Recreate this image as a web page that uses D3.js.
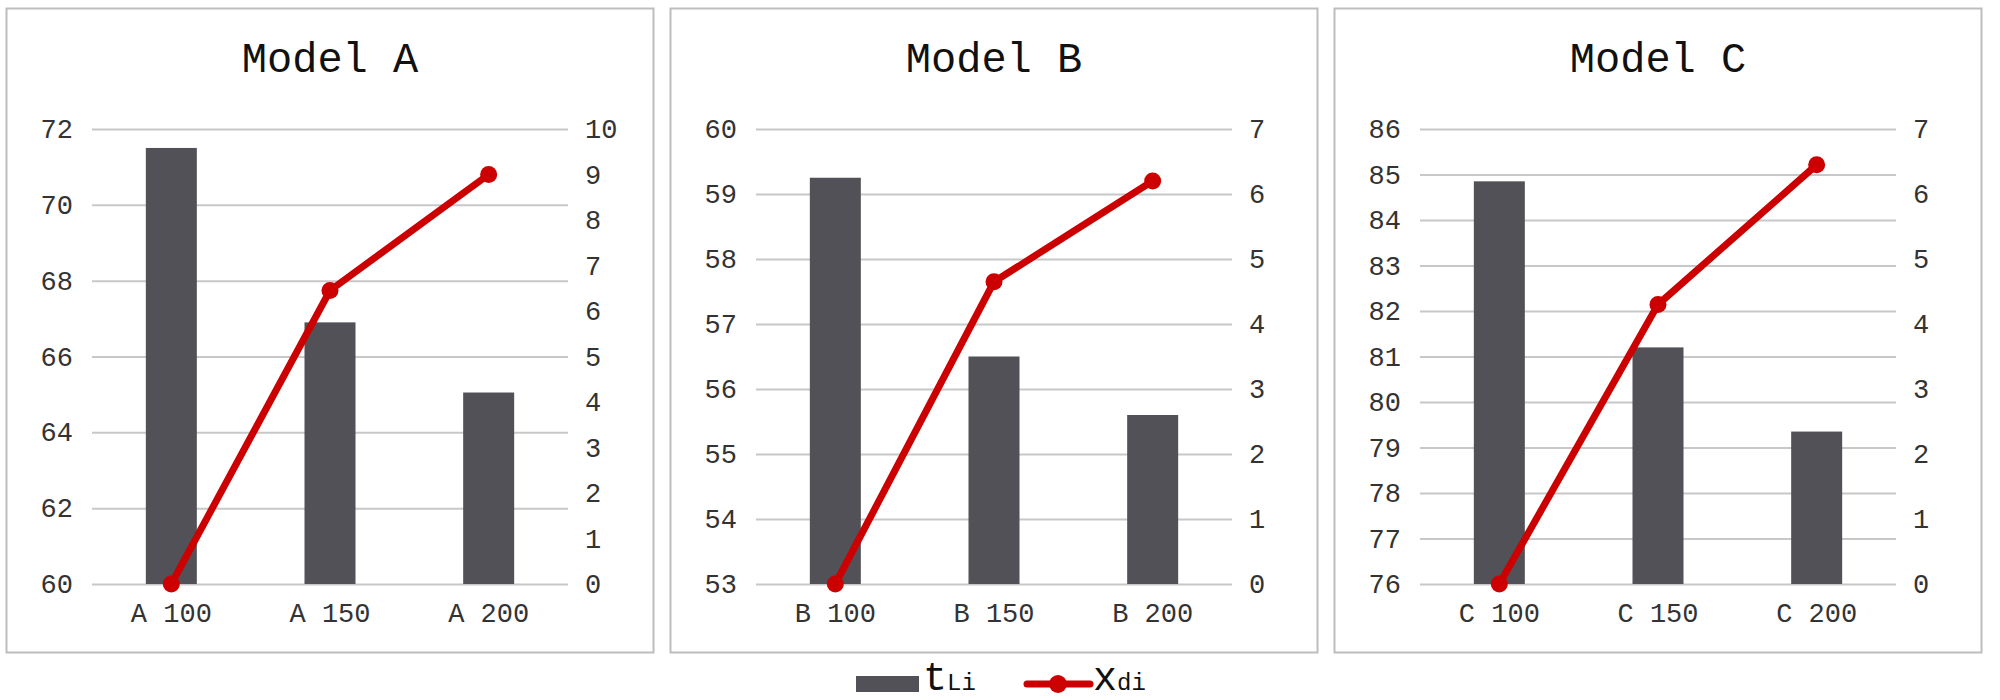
<!DOCTYPE html>
<html><head><meta charset="utf-8">
<script src="https://cdn.jsdelivr.net/npm/d3@7"></script>
<style>body{margin:0;background:#fff}</style></head>
<body><svg id="c" width="2000" height="700"></svg>
<script>
const titles = ["Model A","Model B","Model C"];
const categories = [["A 100","A 150","A 200"],["B 100","B 150","B 200"],["C 100","C 150","C 200"]];
const barValues = [[71.5,66.9,65.05],[59.25,56.5,55.6],[84.85,81.2,79.35]];
const lineValues = [[0,6.45,9.0],[0,4.65,6.2],[0,4.3,6.45]];
const leftDomains = [[60,72],[53,60],[76,86]];
const leftTicks = [[60,62,64,66,68,70,72],[53,54,55,56,57,58,59,60],[76,77,78,79,80,81,82,83,84,85,86]];
const rightDomains = [[0,10],[0,7],[0,7]];
const legendLabels = [["t","Li"],["x","di"]];

const font = "'Liberation Mono', 'DejaVu Sans Mono', monospace";
const svg = d3.select("#c");
const RED = "#cc0000", BAR = "#515157";

titles.forEach((t,i)=>{
  const ox = 6 + i*664;
  const g = svg.append("g").attr("transform",`translate(${ox},0)`);
  g.append("rect").attr("x",0.5).attr("y",8.5).attr("width",647).attr("height",644)
    .attr("fill","#fff").attr("stroke","#bdbdbd").attr("stroke-width",2);
  g.append("text").attr("x",324).attr("y",72).attr("text-anchor","middle")
    .attr("font-family",font).attr("font-size",42).attr("fill","#111").text(t);
  const pl = 86, pr = 562, pt = 129, pb = 584;
  const x = d3.scaleBand().domain(categories[i]).range([pl,pr]);
  const yl = d3.scaleLinear().domain(leftDomains[i]).range([pb,pt]);
  const yr = d3.scaleLinear().domain(rightDomains[i]).range([pb,pt]);
  g.append("g").attr("transform",`translate(${pl},0)`)
    .call(d3.axisLeft(yl).tickValues(leftTicks[i]).tickSize(-(pr-pl)).tickFormat(""))
    .call(s=>{s.select(".domain").remove();s.selectAll("line").attr("stroke","#c8c8c8").attr("stroke-width",2);});
  const la = g.append("g").attr("transform",`translate(${pl-16},0)`)
    .call(d3.axisLeft(yl).tickValues(leftTicks[i]).tickSize(0).tickFormat(d3.format("d")));
  la.select(".domain").remove();
  la.selectAll("text").attr("font-family",font).attr("font-size",27).attr("fill","#333");
  const ra = g.append("g").attr("transform",`translate(${pr+14},0)`)
    .call(d3.axisRight(yr).ticks(rightDomains[i][1]).tickSize(0).tickFormat(d3.format("d")));
  ra.select(".domain").remove();
  ra.selectAll("text").attr("font-family",font).attr("font-size",27).attr("fill","#333");
  const bw = 51;
  g.selectAll("rect.bar").data(barValues[i]).join("rect").attr("class","bar")
    .attr("x",(d,j)=>x(categories[i][j])+x.bandwidth()/2-bw/2).attr("width",bw)
    .attr("y",d=>yl(d)).attr("height",d=>pb-yl(d)).attr("fill",BAR);
  const xa = g.append("g").attr("transform",`translate(0,${pb+16})`).call(d3.axisBottom(x).tickSize(0));
  xa.select(".domain").remove();
  xa.selectAll("text").attr("font-family",font).attr("font-size",27).attr("fill","#333");
  const cx = (j)=>x(categories[i][j])+x.bandwidth()/2;
  g.append("path").datum(lineValues[i])
    .attr("d",d3.line().x((d,j)=>cx(j)).y(d=>yr(d)))
    .attr("fill","none").attr("stroke",RED).attr("stroke-width",7).attr("stroke-linejoin","round");
  g.selectAll("circle").data(lineValues[i]).join("circle")
    .attr("cx",(d,j)=>cx(j)).attr("cy",d=>yr(d)).attr("r",8.5).attr("fill",RED);
});

const lg = svg.append("g");
lg.append("rect").attr("x",856).attr("y",676).attr("width",63).attr("height",16).attr("fill",BAR);
const t1 = lg.append("text").attr("x",923).attr("y",690).attr("font-family",font).attr("fill","#111");
t1.append("tspan").attr("font-size",40).text(legendLabels[0][0]);
t1.append("tspan").attr("font-size",24).text(legendLabels[0][1]);
lg.append("line").attr("x1",1027).attr("x2",1090).attr("y1",684).attr("y2",684).attr("stroke",RED).attr("stroke-width",7).attr("stroke-linecap","round");
lg.append("circle").attr("cx",1058).attr("cy",684).attr("r",9).attr("fill",RED);
const t2 = lg.append("text").attr("x",1093).attr("y",690).attr("font-family",font).attr("fill","#111");
t2.append("tspan").attr("font-size",40).text(legendLabels[1][0]);
t2.append("tspan").attr("font-size",24).text(legendLabels[1][1]);
</script></body></html>
